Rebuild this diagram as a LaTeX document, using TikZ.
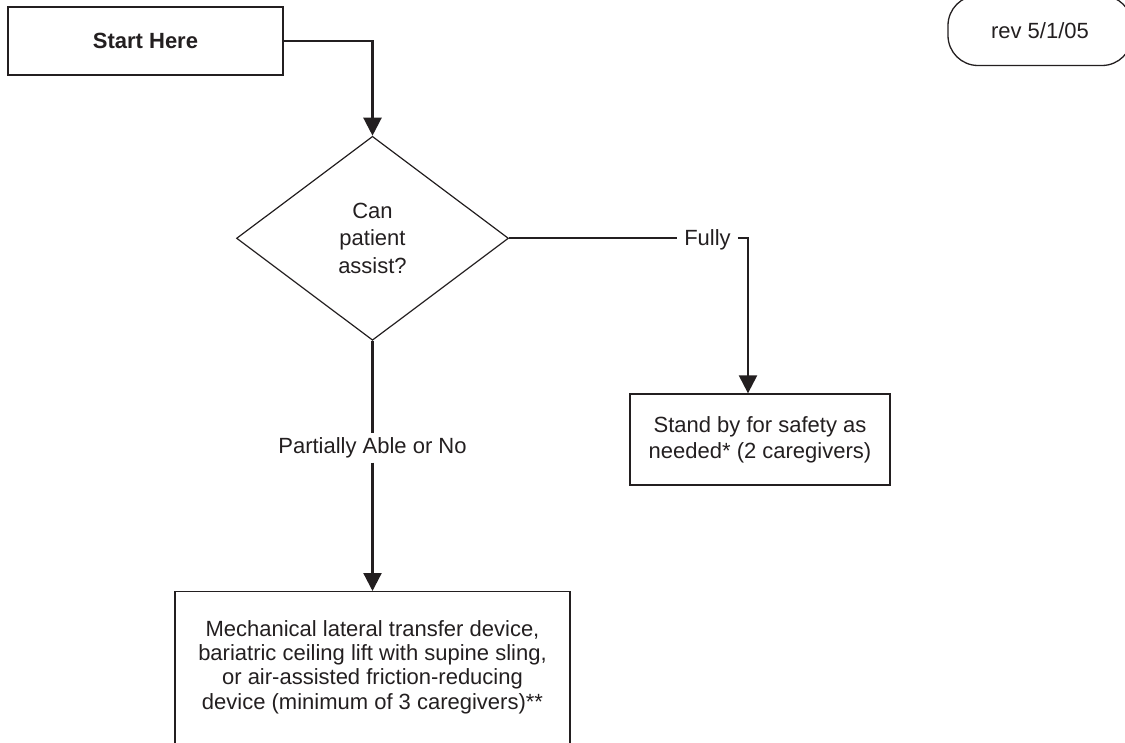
\documentclass[tikz,border=0pt]{standalone}
\usepackage{fontspec}
\setmainfont{Liberation Sans}
\usetikzlibrary{shapes.geometric,arrows.meta}
\definecolor{ink}{RGB}{35,31,32}
\begin{document}
\begin{tikzpicture}[x=1pt,y=-1pt,
  font=\fontsize{22}{26}\selectfont,
  every node/.style={text=ink},
  box/.style={draw=ink,line width=1.3pt,inner sep=0pt,align=center},
  decision/.style={draw=ink,diamond,line width=1.2pt,inner sep=0pt,align=center,
    minimum width=272pt,minimum height=204pt},
  branchtag/.style={inner xsep=7pt,inner ysep=4.5pt},
  flow/.style={draw=ink,line width=2.3pt},
  arrowed/.style={-{Triangle[length=18pt,width=18pt]}}
]
\useasboundingbox (0,0) rectangle (1125,743);

% boxes
\node[box,minimum width=275pt,minimum height=68pt,font=\fontsize{22}{26}\selectfont\bfseries]
  (start) at (145.5,41) {Start Here};
\node[box,rounded corners=30pt,minimum width=184pt,minimum height=70pt]
  (rev) at (1040,30.5) {rev 5/1/05};
\node[decision,font=\fontsize{22}{27.5}\selectfont]
  (dec) at (372.5,238.3) {Can\\patient\\assist?};
\node[box,minimum width=260pt,minimum height=91pt]
  (stand) at (760,439.5) {Stand by for safety as\\needed* (2 caregivers)};
\node[box,minimum width=395pt,minimum height=200pt,anchor=north]
  (mech) at (372.5,591) {};
\node[align=center,inner sep=0pt,font=\fontsize{22}{24.4}\selectfont]
  (mechtext) at (372.5,667) {Mechanical lateral transfer device,\\bariatric ceiling lift with supine sling,\\or air-assisted friction-reducing\\device (minimum of 3 caregivers)**};

% branch labels
\node[branchtag,anchor=base] (fully) at (707.5,246) {Fully};
\node[branchtag,anchor=base] (partial) at (372.5,453.3) {Partially Able or No};
\coordinate (fullyturn) at (748,238.3);

% connectors
\draw[flow,arrowed] (start.east) -| (dec.north);
\draw[flow] (dec.east) -- (dec.east -| fully.west);
\draw[flow,arrowed] (dec.east -| fully.east) -- (fullyturn) -- (fullyturn |- stand.north);
\draw[flow] (dec.south) -- (partial.north);
\draw[flow,arrowed] (partial.south) -- (mech.north);
\end{tikzpicture}
\end{document}
